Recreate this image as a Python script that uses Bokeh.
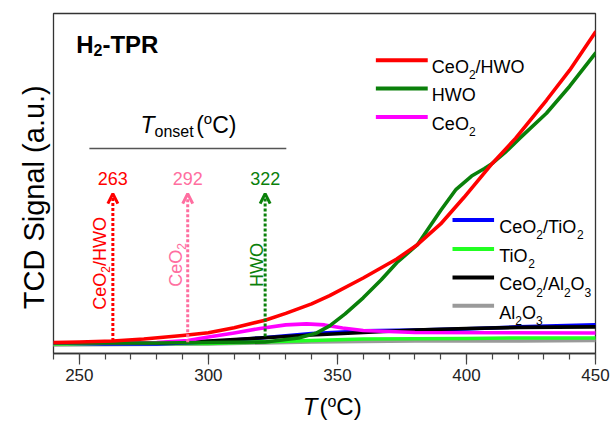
import math
from bokeh.plotting import figure
from bokeh.models import Label, Arrow, OpenHead, SingleIntervalTicker
from bokeh.core.properties import value
from bokeh.embed import file_html
from bokeh.resources import INLINE

# ---------------- data ----------------
T_red = [240, 250, 263, 275, 290, 300, 310, 322, 330, 340, 347, 360, 373, 381, 390, 399, 410, 419, 431, 440, 450]
y_red = [3.24, 3.39, 3.69, 4.28, 5.3, 6.1, 7.6, 9.8, 11.8, 14.6, 17.0, 22.2, 27.8, 32.0, 38.1, 45.87, 55.9, 63.27, 74.48, 83.33, 94.54]

T_hwo = [240, 280, 322, 335, 342, 347, 353, 360, 367, 373, 381, 390, 396, 402, 407, 410, 415, 421, 431, 440, 450]
y_hwo = [3.10, 3.10, 3.39, 4.57, 6.05, 8.11, 11.65, 16.37, 21.68, 26.7, 32.0, 42.04, 48.3, 52.2, 54.4, 55.9, 59.14, 63.57, 70.65, 78.61, 88.35]

T_ceo2 = [240, 280, 292, 300, 310, 320, 330, 338, 345, 352, 360, 380, 450]
y_ceo2 = [3.1, 3.24, 3.83, 4.87, 6.05, 7.37, 8.41, 8.70, 8.41, 7.52, 6.78, 6.19, 6.05]

T_ceti = [240, 260, 280, 300, 320, 340, 360, 380, 400, 420, 450]
y_ceti = [3.1, 2.8, 2.8, 3.39, 4.57, 5.9, 6.64, 6.93, 7.23, 7.82, 8.41]

T_ti = [240, 300, 340, 360, 400, 420, 450]
y_ti = [2.8, 2.95, 3.83, 4.28, 4.42, 4.57, 4.57]

T_ceal = [240, 280, 300, 320, 340, 360, 380, 400, 420, 450]
y_ceal = [3.1, 3.1, 3.69, 4.57, 5.46, 6.19, 6.93, 7.37, 7.67, 7.82]

T_al = [240, 300, 340, 380, 420, 450]
y_al = [2.5, 2.8, 3.39, 3.69, 3.69, 3.83]

onset_vals = [263, 292, 322]
onset_start = [3.7, 3.3, 5.0]

RED = "#FF0000"
GREEN = "#0A800A"
MAGENTA = "#FF00FF"
BLUE = "#0000FF"
LIME = "#22FF22"
BLACK = "#000000"
GRAY = "#9A9A9A"
PINK = "#FF6EA0"

FONT = "Liberation Sans"
N = "normal"

# ---------------- figure ----------------
p = figure(width=610, height=423, x_range=(240, 450), y_range=(0, 100),
           output_backend="svg", toolbar_location=None, y_axis_location=None,
           min_border_left=53, min_border_right=15, min_border_top=13, min_border_bottom=70)
p.background_fill_color = "white"
p.border_fill_color = "white"
p.outline_line_color = "#333333"
p.outline_line_width = 1.3
p.grid.visible = False

xa = p.xaxis[0]
xa.ticker = SingleIntervalTicker(interval=50, num_minor_ticks=5)
xa.major_tick_out = 11
xa.major_tick_in = 0
xa.minor_tick_out = 6
xa.minor_tick_in = 0
xa.major_tick_line_color = "#444444"
xa.minor_tick_line_color = "#444444"
xa.major_tick_line_width = 1.2
xa.minor_tick_line_width = 1.2
xa.axis_line_color = "#333333"
xa.axis_line_width = 1.3
xa.major_label_text_font = FONT
xa.major_label_text_font_size = "17px"
xa.major_label_text_color = "#222222"
xa.major_label_standoff = 4

LW = 3.6
for xs, ys, c in [(T_al, y_al, GRAY), (T_ti, y_ti, LIME), (T_ceti, y_ceti, BLUE),
                  (T_ceal, y_ceal, BLACK), (T_ceo2, y_ceo2, MAGENTA),
                  (T_hwo, y_hwo, GREEN), (T_red, y_red, RED)]:
    p.line(xs, ys, line_color=c, line_width=LW, line_join="round", line_cap="round")

# ---------------- rich text helpers ----------------
ADV = {' ': 278, '(': 333, ')': 333, '/': 278, '-': 333, '.': 278,
       'A': 667, 'C': 722, 'D': 722, 'H': 722, 'O': 778, 'P': 667, 'R': 722,
       'S': 667, 'T': 611, 'W': 944, 'a': 556, 'e': 556, 'g': 556, 'i': 222,
       'l': 222, 'n': 556, 'o': 556, 's': 500, 't': 278, 'u': 556}


def tw(s, size):
    return sum(ADV.get(ch, 556) for ch in s) * size / 1000.0


def layout_runs(runs, align, angle, dy):
    widths = [r if isinstance(r, (int, float)) else tw(r[0], r[1]) for r in runs]
    total = sum(widths)
    pos = {"left": 0, "center": -total / 2, "right": -total}[align]
    out = []
    for r, w in zip(runs, widths):
        if not isinstance(r, (int, float)):
            txt, sz, shift, st = r
            sh = shift + dy
            if angle == 0:
                xo, yo = pos, sh          # screen px, y positive = up
            else:
                xo, yo = -sh, pos
            out.append((txt, sz, st, xo, yo))
        pos += w
    return out


def rich(x, y, runs, color, align="left", angle=0, dy=0):
    """Labels inside the plot frame."""
    for txt, sz, st, xo, yo in layout_runs(runs, align, angle, dy):
        p.add_layout(Label(x=x, y=y, text=txt, x_offset=xo, y_offset=yo,
                           angle=angle, angle_units="deg",
                           text_font=FONT, text_font_size=f"{sz}px",
                           text_font_style=st, text_color=color,
                           text_align="left", text_baseline="alphabetic"))


def rich_out(x, y, runs, color, align="left", angle=0, dy=0, middle=False):
    """Text glyphs (overlay level) for titles that lie outside the frame."""
    for txt, sz, st, xo, yo in layout_runs(runs, align, angle, dy):
        base = "alphabetic"
        if middle and angle == 0:
            yo = yo + 0.30 * sz
            base = "middle"
        p.text(x=[x], y=[y], text=[txt], x_offset=xo, y_offset=-yo,
               angle=math.radians(angle),
               text_font=value(FONT), text_font_size=value(f"{sz}px"),
               text_font_style=st, text_color=color,
               text_align="left", text_baseline=base, level="overlay")


# title
rich(248.8, 90.9, [("H", 24, 0, "bold"), ("2", 16, -6, "bold"), ("-TPR", 24, 0, "bold")], BLACK)

# T_onset header
rich(273.7, 67.1, [("T", 23, 0, "italic"), ("onset", 16, -5.7, N), 2.5,
                   ("(", 23, 0, N), ("o", 15, 6.7, N), ("C)", 23, 0, N)], BLACK)
p.segment(x0=[253.9], x1=[330.2], y0=[60.3], y1=[60.3], line_color="#555555", line_width=1.5)

# onset values and arrows
for v, y0, c in zip(onset_vals, onset_start, [RED, PINK, GREEN]):
    rich(v, 51.4, [(str(v), 18, 0, N)], c, align="center")
    p.add_layout(Arrow(x_start=v, y_start=y0, x_end=v, y_end=47.0,
                       line_color=c, line_width=3, line_dash="3 2",
                       end=OpenHead(size=10, line_color=c, line_width=3)))

# rotated sample labels
rich(258.1, 26.5, [("CeO", 18, 0, N), ("2", 12, -5, N), ("/HWO", 18, 0, N)], RED, align="center", angle=90)
rich(287.5, 26.05, [("CeO", 18, 0, N), ("2", 12, -5, N)], PINK, align="center", angle=90)
rich(318.9, 26.05, [("HWO", 18, 0, N)], GREEN, align="center", angle=90)

# legend group 1
SUB = -8
leg1 = [(RED, 86.28, [("CeO", 18, 0, N), ("2", 12, SUB, N), ("/HWO", 18, 0, N)]),
        (GREEN, 77.94, [("HWO", 18, 0, N)]),
        (MAGENTA, 69.56, [("CeO", 18, 0, N), ("2", 12, SUB, N)])]
for c, ly, runs in leg1:
    p.segment(x0=[364.9], x1=[385.0], y0=[ly], y1=[ly], line_color=c, line_width=4)
    rich(386.6, ly, runs, BLACK, dy=-6.7)

# legend group 2
leg2 = [(BLUE, 39.29, [("CeO", 18, 0, N), ("2", 12, SUB, N), ("/TiO", 18, 0, N), ("2", 12, SUB, N)]),
        (LIME, 30.74, [("TiO", 18, 0, N), ("2", 12, SUB, N)]),
        (BLACK, 22.36, [("CeO", 18, 0, N), ("2", 12, SUB, N), ("/Al", 18, 0, N), ("2", 12, SUB, N),
                        ("O", 18, 0, N), ("3", 12, SUB, N)]),
        (GRAY, 14.01, [("Al", 18, 0, N), ("2", 12, SUB, N), ("O", 18, 0, N), ("3", 12, SUB, N)])]
for c, ly, runs in leg2:
    p.segment(x0=[394.6], x1=[410.7], y0=[ly], y1=[ly], line_color=c, line_width=4)
    rich(412.7, ly, runs, BLACK, dy=-7)

# axis titles (outside the frame)
rich_out(336.6, -17.6, [("T", 24, 0, "italic"), 2, ("(", 24, 0, N), ("o", 16, 7.4, N), ("C)", 24, 0, N)],
         BLACK, middle=True)
rich_out(232.3, 45.96, [("TCD Signal (a.u.)", 29, 0, N)], BLACK, align="center", angle=90)

open("out.html", "w").write(file_html(p, INLINE))
